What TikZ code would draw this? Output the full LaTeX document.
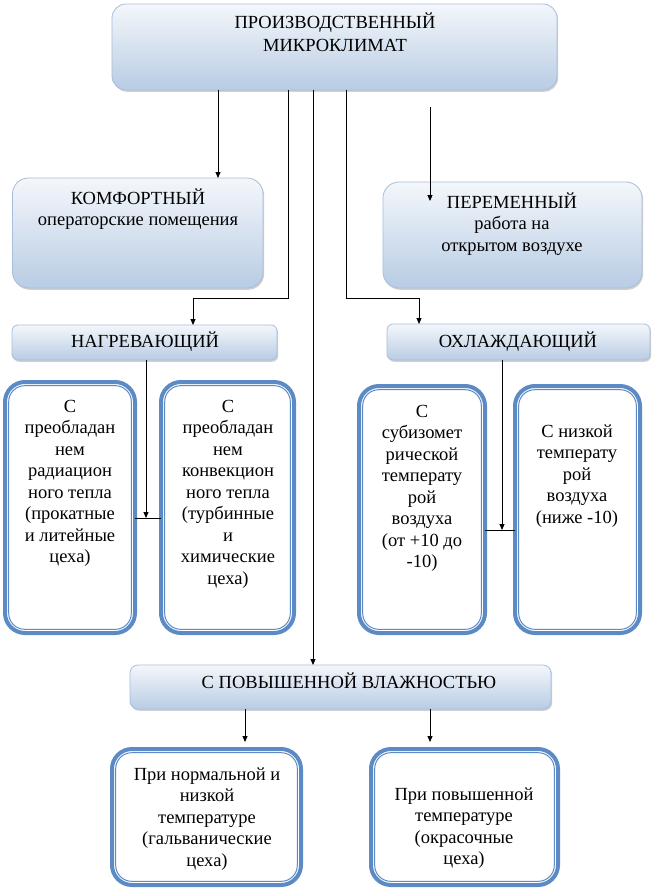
\documentclass[tikz,border=0pt]{standalone}
\usepackage{fontspec}
\setmainfont{Liberation Serif}
\usetikzlibrary{arrows.meta,shadows,calc}
\definecolor{gtop}{HTML}{F4F7FB}
\definecolor{gbot}{HTML}{B8CCE4}
\definecolor{gline}{HTML}{A7BEDC}
\definecolor{dblue}{HTML}{5B8AC4}
\tikzset{
 gbox/.style={draw=gline, line width=0.8pt, top color=gtop, bottom color=gbot, anchor=north west, inner sep=0pt, outer sep=0pt, drop shadow={shadow xshift=1.2pt, shadow yshift=-1.8pt, opacity=0.3, fill=black!60}},
 dbox/.style={draw=dblue, line width=4pt, fill=white, rounded corners=20pt, anchor=north west, inner sep=0pt, outer sep=0pt},
 dinner/.style={draw=dblue, line width=1pt, rounded corners=16pt},
 txt/.style={font=\fontsize{18.5}{21.5}\selectfont, align=center, anchor=base, inner sep=0pt},
 arr/.style={draw=black, line width=0.9pt, -{Triangle[length=6pt,width=5pt]}},
 ln/.style={draw=black, line width=0.9pt},
}
\begin{document}
\begin{tikzpicture}[x=1pt,y=-1pt]
\useasboundingbox (0,0) rectangle (653,889);
\fill[white] (0,0) rectangle (653,889);
% gradient boxes
\node[gbox, rounded corners=14pt, minimum width=445pt, minimum height=86pt] (top) at (112,4) {};
\node[gbox, rounded corners=16pt, minimum width=250.5pt, minimum height=110pt] (komf) at (12.5,178) {};
\node[gbox, rounded corners=16pt, minimum width=259pt, minimum height=106pt] (perem) at (383,182) {};
\node[gbox, rounded corners=6pt, minimum width=265pt, minimum height=35pt] (nagr) at (12,325) {};
\node[gbox, rounded corners=6pt, minimum width=263pt, minimum height=36pt] (ohl) at (387,324) {};
\node[gbox, rounded corners=8pt, minimum width=421pt, minimum height=44pt] (vlazh) at (130,665) {};
% double boxes
\node[dbox, minimum width=130pt, minimum height=251pt] (h1) at (5,382) {};
\node[dbox, minimum width=133pt, minimum height=251pt] (h2) at (161,382) {};
\node[dbox, minimum width=126pt, minimum height=247pt] (c1) at (359,386) {};
\node[dbox, minimum width=125pt, minimum height=247pt] (c2) at (515,386) {};
\node[dbox, minimum width=189pt, minimum height=136pt] (b1) at (112,749) {};
\node[dbox, minimum width=187pt, minimum height=136pt] (b2) at (371,749) {};
\foreach \n in {h1,h2,c1,c2,b1,b2}
  \draw[dinner] ($(\n.north west)+(3.7,3.7)$) rectangle ($(\n.south east)+(-3.7,-3.7)$);
% texts (anchored at the baseline of the last line)
\node[txt] (ttop) at (335,51) {ПРОИЗВОДСТВЕННЫЙ\\[1.5pt]МИКРОКЛИМАТ};
\node[txt] (tkomf) at (138,225.5) {КОМФОРТНЫЙ\\операторские помещения};
\node[txt] (tperem) at (512,251) {ПЕРЕМЕННЫЙ\\работа на\\открытом воздухе};
\node[txt] (tnagr) at (145,347) {НАГРЕВАЮЩИЙ};
\node[txt] (tohl) at (518,347) {ОХЛАЖДАЮЩИЙ};
\node[txt] (th1) at (70,562.5) {С\\преобладан\\нем\\радиацион\\ного тепла\\(прокатные\\и литейные\\цеха)};
\node[txt] (th2) at (228,584) {С\\преобладан\\нем\\конвекцион\\ного тепла\\(турбинные\\и\\химические\\цеха)};
\node[txt] (tc1) at (422,567.5) {С\\субизомет\\рической\\температу\\рой\\воздуха\\(от +10 до\\-10)};
\node[txt] (tc2) at (577,523) {С низкой\\температу\\рой\\воздуха\\(ниже -10)};
\node[txt] (tvlazh) at (349,688) {С ПОВЫШЕННОЙ ВЛАЖНОСТЬЮ};
\node[txt] (tb1) at (207,866) {При нормальной и\\низкой\\температуре\\(гальванические\\цеха)};
\node[txt] (tb2) at (464,864.5) {При повышенной\\температуре\\(окрасочные\\цеха)};
% connectors
\draw[arr] (top.south -| 218,0) -- (komf.north -| 218,0);
\draw[arr] (top.south -| 288,0) -- (288,298) -| (nagr.north -| 193,0);
\draw[arr] (top.south -| 313,0) -- (vlazh.north -| 313,0);
\draw[arr] (top.south -| 346,0) -- (346,298) -| (ohl.north -| 419,0);
\coordinate (pa) at (430,107);
\coordinate (pb) at (430,201);
\draw[arr] (pa) -- (pb);
\coordinate (hj) at (146,518);
\draw[arr] (nagr.south -| hj) -- (hj);
\draw[ln] (h1.east |- hj) -- (h2.west |- hj);
\coordinate (cj) at (502,530);
\draw[arr] (ohl.south -| cj) -- (cj);
\draw[ln] (c1.east |- cj) -- (c2.west |- cj);
\draw[arr, shorten >=7pt] (vlazh.south -| 245,0) -- (b1.north -| 245,0);
\draw[arr, shorten >=7pt] (vlazh.south -| 430,0) -- (b2.north -| 430,0);
\end{tikzpicture}
\end{document}
